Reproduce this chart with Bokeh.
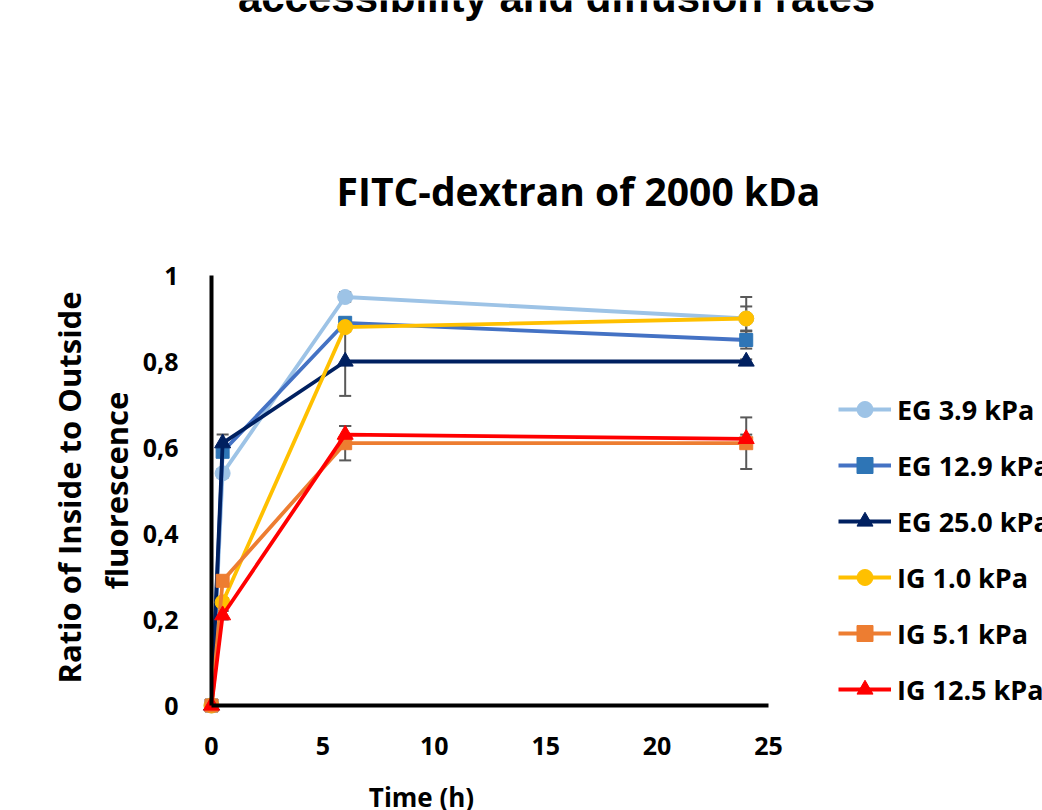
import math
from bokeh.plotting import figure
from bokeh.models import (ColumnDataSource, Range1d, FixedTicker, Whisker, TeeHead,
                          Label, Legend, LegendItem)
from bokeh.embed import file_html
from bokeh.resources import INLINE

# ---------------- data ----------------
time_h = [0, 0.5, 6, 24]

series_names = ["EG 3.9 kPa", "EG 12.9 kPa", "EG 25.0 kPa",
                "IG 1.0 kPa", "IG 5.1 kPa", "IG 12.5 kPa"]

eg_3_9 = [0, 0.54, 0.95, 0.90]
eg_12_9 = [0, 0.59, 0.89, 0.85]
eg_25_0 = [0, 0.61, 0.80, 0.80]
ig_1_0 = [0, 0.24, 0.88, 0.90]
ig_5_1 = [0, 0.29, 0.61, 0.61]
ig_12_5 = [0, 0.21, 0.63, 0.62]

err_eg_3_9 = [0, 0.01, 0.011, 0.05]
err_eg_12_9 = [0, 0.01, 0.012, 0.02]
err_eg_25_0 = [0, 0.02, 0.08, 0.005]
err_ig_1_0 = [0, 0.01, 0.01, 0.028]
err_ig_5_1 = [0, 0.01, 0.04, 0.06]
err_ig_12_5 = [0, 0.01, 0.02, 0.01]

x_ticks = [0, 5, 10, 15, 20, 25]
y_ticks = [0, 0.2, 0.4, 0.6, 0.8, 1.0]
y_tick_labels = ["0", "0,2", "0,4", "0,6", "0,8", "1"]

title_text = "FITC-dextran of 2000 kDa"
top_text = "accessibility and diffusion rates"
x_title = "Time (h)"
y_title_lines = ["Ratio of Inside to Outside", "fluorescence"]

values = [eg_3_9, eg_12_9, eg_25_0, ig_1_0, ig_5_1, ig_12_5]
errors = [err_eg_3_9, err_eg_12_9, err_eg_25_0, err_ig_1_0, err_ig_5_1, err_ig_12_5]

# ---------------- styles / layout ----------------
line_colors = ["#9DC3E6", "#4472C4", "#002060", "#FFC000", "#ED7D31", "#FF0000"]
marker_colors = ["#9DC3E6", "#2E75B6", "#002060", "#FFC000", "#ED7D31", "#FF0000"]
markers = ["circle", "square", "triangle", "circle", "square", "triangle"]
marker_sizes = [15, 13, 16, 15, 13, 16]

FONT = "Open Sans"
W, H = 1042, 810
X0_PX, X25_PX = 211.0, 768.0      # pixel columns of x=0 and x=25
Y0_PX, Y1_PX = 705.0, 275.0       # pixel rows of y=0 and y=1
xs = (X25_PX - X0_PX) / 25.0
ys = (Y0_PX - Y1_PX) / 1.0
x_start = -X0_PX / xs
x_end = (W - X0_PX) / xs
y_start = -(H - Y0_PX) / ys
y_end = y_start + H / ys

p = figure(width=W, height=H, output_backend="svg", toolbar_location=None,
           x_range=Range1d(x_start, x_end), y_range=Range1d(y_start, y_end),
           min_border=0, min_border_left=0, min_border_right=0,
           min_border_top=0, min_border_bottom=0)
p.outline_line_color = None
p.xgrid.visible = False
p.ygrid.visible = False
p.background_fill_color = "white"
p.border_fill_color = "white"

# axes (fixed at data zero, so they take no side space)
for ax in (p.xaxis[0], p.yaxis[0]):
    ax.fixed_location = 0
    ax.axis_line_color = "black"
    ax.axis_line_width = 4
    ax.major_tick_line_color = None
    ax.minor_tick_line_color = None
    ax.major_label_text_font = FONT
    ax.major_label_text_font_style = "bold"
    ax.major_label_text_font_size = "25px"
    ax.major_label_text_color = "black"

p.xaxis[0].ticker = FixedTicker(ticks=x_ticks)
p.xaxis[0].bounds = (0, 25)
p.xaxis[0].major_label_standoff = 25
p.yaxis[0].ticker = FixedTicker(ticks=y_ticks)
p.yaxis[0].bounds = (0, 1)
p.yaxis[0].major_label_standoff = 27
p.yaxis[0].major_label_overrides = {float(t): lab for t, lab in zip(y_ticks, y_tick_labels)}

# error bars
for vals, errs in zip(values, errors):
    src = ColumnDataSource(dict(x=time_h,
                                lo=[v - e for v, e in zip(vals, errs)],
                                hi=[v + e for v, e in zip(vals, errs)]))
    w = Whisker(source=src, base="x", lower="lo", upper="hi", dimension="height",
                line_color="#595959", line_width=2, level="underlay",
                upper_head=TeeHead(size=12, line_color="#595959", line_width=2),
                lower_head=TeeHead(size=12, line_color="#595959", line_width=2))
    p.add_layout(w)

items = []
for name, vals, lc, mc, mk, ms in zip(series_names, values, line_colors,
                                      marker_colors, markers, marker_sizes):
    src = ColumnDataSource(dict(x=time_h, y=vals))
    lr = p.line("x", "y", source=src, line_color=lc, line_width=3.8)
    sr = p.scatter("x", "y", source=src, marker=mk, size=ms,
                   fill_color=mc, line_color=mc)
    items.append(LegendItem(label=name, renderers=[lr, sr]))

legend = Legend(items=items, location=(838, 101), orientation="vertical",
                glyph_width=53, glyph_height=40, label_height=40, spacing=16,
                label_standoff=6, padding=0, margin=0,
                border_line_color=None, background_fill_alpha=0,
                label_text_font=FONT, label_text_font_style="bold",
                label_text_font_size="27px", label_text_color="black")
p.add_layout(legend, "center")

# texts (screen units: x from left, y from bottom)
def add_text(txt, cx, cy, size, font=FONT, angle=0.0):
    p.add_layout(Label(x=cx, y=H - cy, x_units="screen", y_units="screen",
                       text=txt, text_font=font, text_font_style="bold",
                       text_font_size=size, text_align="center",
                       text_baseline="middle", angle=angle,
                       text_color="black"))

add_text(title_text, 578, 190, "39px")
add_text(top_text, 556, -3.5, "42px", font="Liberation Sans")
add_text(x_title, 421, 796, "26px")
add_text(y_title_lines[0], 68, 487, "31px", angle=math.pi / 2)
add_text(y_title_lines[1], 115, 490, "31px", angle=math.pi / 2)

open("out.html", "w").write(file_html(p, INLINE))
